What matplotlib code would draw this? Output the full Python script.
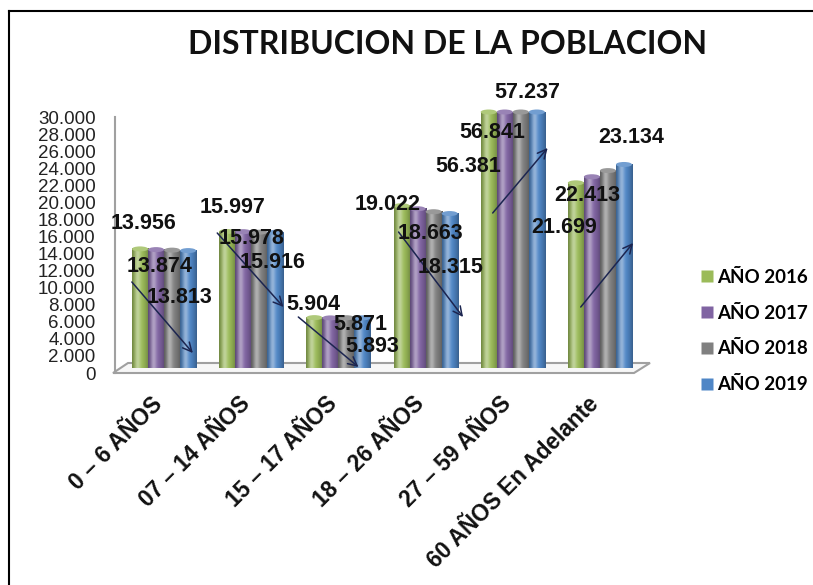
import numpy as np
import matplotlib
matplotlib.use("Agg")
import matplotlib.pyplot as plt
from matplotlib.patches import Polygon, Ellipse
from matplotlib.lines import Line2D
from matplotlib.transforms import ScaledTranslation
from matplotlib.colors import to_rgb

W, H = 813, 585

CATEGORIES = ["0 \u2013 6 AÑOS", "07 \u2013 14 AÑOS", "15 \u2013 17 AÑOS",
              "18 \u2013 26 AÑOS", "27 \u2013 59 AÑOS", "60 AÑOS En Adelante"]
SERIES = ["AÑO 2016", "AÑO 2017", "AÑO 2018", "AÑO 2019"]
Y2016 = [13956, 15997, 5904, 19022, 56381, 21699]
Y2017 = [13874, 15978, 5871, 18663, 56841, 22413]
Y2018 = [13813, 15916, 5893, 18315, 57237, 23134]
Y2019 = [13760, 15900, 5880, 18100, 57600, 23850]   # no label shown
COLORS = ["#9BBB59", "#8064A2", "#808080", "#4F86C6"]

YMAX = 30000
YTICKS = list(range(0, YMAX + 1, 2000))

# hand placed label centres (x in category units, y in data units)
LABEL_XY = [
    [(-0.24, 17578), (-0.05, 12422), (0.18, 8906)],
    [(0.79, 19336), (1.00, 15750), (1.25, 12900)],
    [(1.71, 7969), (2.25, 5625), (2.39, 3047)],
    [(2.57, 19688), (3.06, 16406), (3.29, 12305)],
    [(3.49, 24141), (3.76, 28125), (4.17, 32813)],
    [(4.59, 17109), (4.85, 20859), (5.36, 27656)],
]
# trend arrows drawn over each group (start, end)
ARROWS = [
    ((-0.37, 10664), (0.33, 2344)),
    ((0.61, 16406), (1.37, 7734)),
    ((1.54, 6563), (2.23, 703)),
    ((2.69, 16523), (3.43, 6563)),
    ((3.77, 18750), (4.40, 26367)),
    ((4.78, 7734), (5.38, 15234)),
]


def fx(px):
    return px / W


def fy(py):
    return 1 - py / H


def fmt(v):
    return f"{v:,}".replace(",", ".")


def cylinder_img(color, n=40):
    base = np.array(to_rgb(color))
    t = np.linspace(0, 1, n)
    dark = 0.72 + 0.28 * np.sin(np.pi * t)
    hi = 0.40 * np.exp(-((t - 0.33) / 0.18) ** 2)
    rgb = base[None, :] * dark[:, None]
    rgb = rgb * (1 - hi[:, None]) + hi[:, None]
    return np.clip(rgb, 0, 1)[None, :, :]


fig = plt.figure(figsize=(W / 100, H / 100), dpi=100)
fig.patch.set_facecolor("white")

ax = fig.add_axes([fx(120.5), fy(373), 523 / W, 256 / H])
for s in ax.spines.values():
    s.set_visible(False)

# 3D look: bars sit a few pixels above the value baseline
lift = ax.transData + ScaledTranslation(0, 0.05, fig.dpi_scale_trans)

series = [Y2016, Y2017, Y2018, Y2019]
bw = 0.184
x = np.arange(len(CATEGORIES))
cap_h = 5 * YMAX / 256
for j, (vals, col) in enumerate(zip(series, COLORS)):
    heights = np.minimum(vals, YMAX)
    xs = x + (j - 1.5) * bw
    img = cylinder_img(col)
    for xc, h in zip(xs, heights):
        im = ax.imshow(img, extent=(xc - bw / 2, xc + bw / 2, 0, h),
                       aspect="auto", interpolation="bilinear", zorder=2)
        im.set_transform(lift)
        im.set_clip_on(False)
        cap = Ellipse((xc, h), bw, cap_h, transform=lift,
                      facecolor=np.clip(np.array(to_rgb(col)) * 0.8 + 0.2, 0, 1),
                      edgecolor="none", zorder=3, clip_on=False)
        ax.add_patch(cap)

# floor
floor = Polygon([(fx(128), fy(363)), (fx(650), fy(363)), (fx(634), fy(373)),
                 (fx(113), fy(373))], closed=True, transform=fig.transFigure,
                facecolor="#F7F7F7", edgecolor="#A0A0A0", lw=1.5,
                zorder=1, clip_on=False)
ax.add_patch(floor)
ax.add_line(Line2D([fx(115), fx(115)], [fy(117), fy(373)],
                   transform=fig.transFigure, color="#A0A0A0", lw=1.5,
                   clip_on=False, zorder=1))

# data labels for the first three series
for g in range(len(CATEGORIES)):
    for j in range(3):
        lx, ly = LABEL_XY[g][j]
        ax.text(lx, ly, fmt(series[j][g]), ha="center", va="center",
                fontsize=15.5, fontweight="bold", family="Liberation Sans",
                color="#111111", zorder=6, clip_on=False)

for (x0, y0), (x1, y1) in ARROWS:
    ax.annotate("", xy=(x1, y1), xytext=(x0, y0),
                arrowprops=dict(arrowstyle="->", color="#1C2550", lw=1.1,
                                mutation_scale=16, shrinkA=0, shrinkB=0),
                zorder=5, annotation_clip=False)

ax.set_xlim(-0.5, len(CATEGORIES) - 0.5)
ax.set_ylim(0, YMAX)
ax.set_yticks(YTICKS)
ax.set_yticklabels([fmt(v) for v in YTICKS], family="Liberation Sans",
                   fontsize=13.5, color="#222222")
ax.tick_params(axis="y", length=0, pad=18)
ax.set_xticks(x)
ax.set_xticklabels(CATEGORIES, rotation=45, ha="right", va="top",
                   rotation_mode="anchor", family="Liberation Sans",
                   fontsize=16.3, fontweight="bold", color="#111111")
ax.tick_params(axis="x", length=0, pad=14)
for lab in ax.get_xticklabels():
    lab.set_transform(lab.get_transform() +
                      ScaledTranslation(-0.13, 0, fig.dpi_scale_trans))

fig.text(0.551, fy(45), "DISTRIBUCION DE LA POBLACION", ha="center",
         va="center", family="Lato", fontweight="bold", fontsize=23,
         color="#111111")

handles = [Line2D([], [], marker="s", ls="none", markersize=8,
                  markerfacecolor=c, markeredgecolor="none") for c in COLORS]
fig.legend(handles, SERIES, loc="center left",
           bbox_to_anchor=(fx(690), fy(331)), frameon=False,
           prop=dict(family="Lato", weight="bold", size=13.5),
           handletextpad=0.15, labelspacing=1.0, handlelength=0.8,
           borderpad=0)

# outer frame
fig.add_artist(Line2D([fx(9), 1], [fy(11), fy(11)], transform=fig.transFigure,
                      color="black", lw=1.5))
fig.add_artist(Line2D([fx(9), fx(9)], [fy(11), 0], transform=fig.transFigure,
                      color="black", lw=1.5))

fig.savefig("out.png", dpi=100)
